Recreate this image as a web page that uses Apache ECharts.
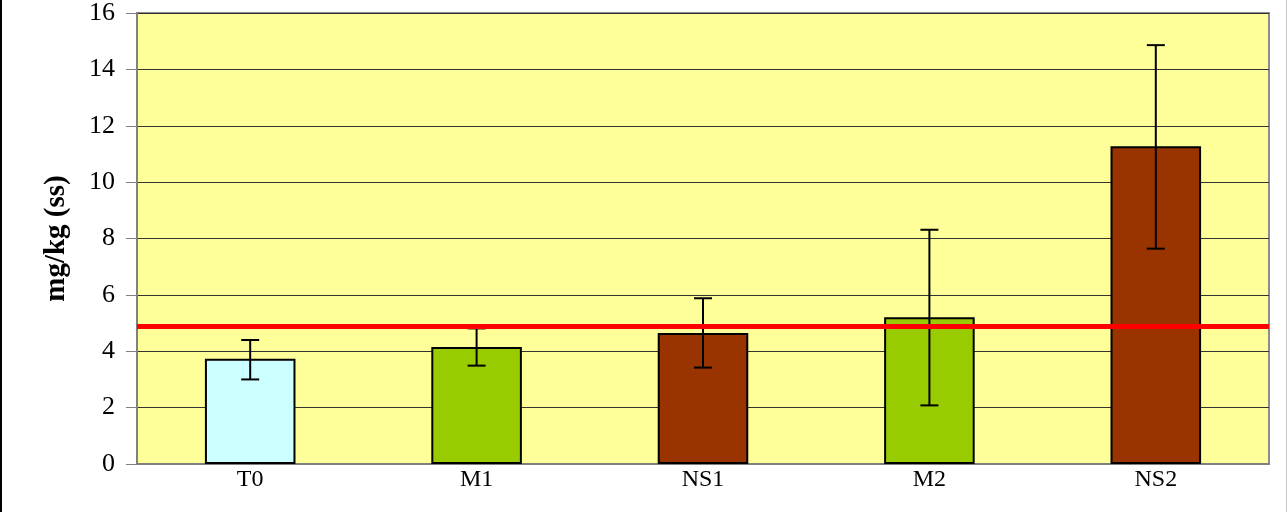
<!DOCTYPE html>
<html>
<head>
<meta charset="utf-8">
<script src="https://cdn.jsdelivr.net/npm/echarts@6/dist/echarts.min.js"></script>
<style>
  html, body { margin: 0; padding: 0; background: #fff; }
  #chart {
    width: 1287px; height: 512px;
    border-left: 2px solid #000;
    border-right: 1px solid #c8c8c8;
    box-sizing: border-box;
  }
</style>
</head>
<body>
<div id="chart"></div>
<script>
// data
var categories = ['T0', 'M1', 'NS1', 'M2', 'NS2'];
var means = [3.73, 4.15, 4.65, 5.21, 11.27];
var errLow = [3.0, 3.49, 3.42, 2.08, 7.64];
var errHigh = [4.4, 4.81, 5.88, 8.31, 14.86];
var barColors = ['#CCFFFF', '#99CC00', '#993300', '#99CC00', '#993300'];
var limitValue = 4.9;
var yTicks = [0, 2, 4, 6, 8, 10, 12, 14, 16];

var chart = echarts.init(document.getElementById('chart'));

var serif = '"Liberation Serif", "Times New Roman", serif';

var option = {
    animation: false,
    grid: {
        left: 135, right: 17, top: 9, bottom: 48,
        show: true,
        backgroundColor: '#FFFF99',
        borderColor: '#8c8c8c',
        borderWidth: 2
    },
    xAxis: {
        type: 'category',
        data: categories,
        axisLine: { lineStyle: { color: '#808080', width: 2 } },
        axisTick: { show: false },
        axisLabel: { color: '#000', fontFamily: serif, fontSize: 24, margin: 4 },
        splitLine: { show: false }
    },
    yAxis: {
        type: 'value',
        min: yTicks[0],
        max: yTicks[yTicks.length - 1],
        interval: 2,
        name: 'mg/kg (ss)',
        nameLocation: 'middle',
        nameGap: 66,
        nameTextStyle: { color: '#000', fontFamily: serif, fontSize: 29, fontWeight: 'bold' },
        axisLine: { show: true, lineStyle: { color: '#808080', width: 2 } },
        axisTick: { show: true, length: 11, lineStyle: { color: '#808080', width: 1 } },
        axisLabel: { color: '#000', fontFamily: serif, fontSize: 26, margin: 22 },
        splitLine: { show: true, lineStyle: { color: '#333', width: 1 } }
    },
    series: [
        {
            type: 'bar',
            barWidth: '40%',
            data: means.map(function (v, i) {
                return { value: v, itemStyle: { color: barColors[i] } };
            }),
            itemStyle: { borderColor: '#000', borderWidth: 2 },
            markLine: {
                silent: true,
                symbol: 'none',
                label: { show: false },
                lineStyle: { color: '#FF0000', width: 5, type: 'solid' },
                data: [{ yAxis: limitValue }]
            },
            z: 2
        },
        {
            type: 'custom',
            data: categories.map(function (c, i) { return [i, errLow[i], errHigh[i]]; }),
            renderItem: function (params, api) {
                var x = api.value(0);
                var lo = api.coord([x, api.value(1)]);
                var hi = api.coord([x, api.value(2)]);
                var hw = 9;
                var st = { stroke: '#000', lineWidth: 2 };
                return {
                    type: 'group',
                    children: [
                        { type: 'line', shape: { x1: hi[0], y1: hi[1], x2: lo[0], y2: lo[1] }, style: st },
                        { type: 'line', shape: { x1: hi[0] - hw, y1: hi[1], x2: hi[0] + hw, y2: hi[1] }, style: st },
                        { type: 'line', shape: { x1: lo[0] - hw, y1: lo[1], x2: lo[0] + hw, y2: lo[1] }, style: st }
                    ]
                };
            },
            z: 3
        }
    ]
};

chart.setOption(option);
</script>
</body>
</html>
